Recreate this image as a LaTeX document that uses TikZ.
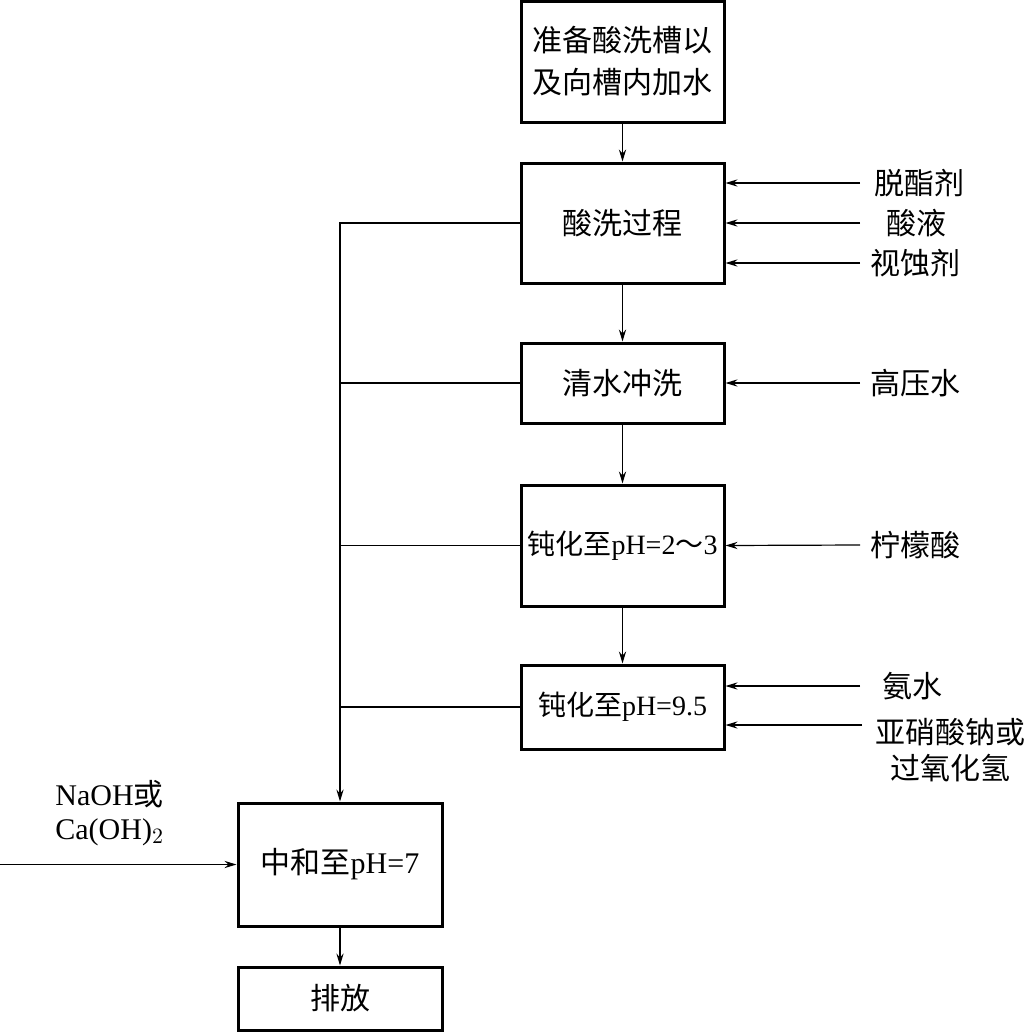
\documentclass[tikz,border=0pt]{standalone}
\usepackage{fontspec}
\setmainfont{Liberation Serif}
\newfontfamily\cjk{Noto Sans CJK SC}
\newcommand\zh[1]{{\cjk #1}}
\usetikzlibrary{arrows.meta}
\begin{document}
\begin{tikzpicture}[x=0.5pt,y=-0.5pt,
  box/.style={draw,line width=1.5pt,minimum width=101.5pt,inner sep=1pt,align=center,font=\fontsize{15}{19}\selectfont},
  lab/.style={inner sep=1pt,align=center,font=\fontsize{15}{17}\selectfont},
  arr/.style={line width=0.6pt,-{Stealth[length=6pt,width=3.6pt,inset=2pt]}},
  ln/.style={line width=0.6pt}]
\useasboundingbox (0,0) rectangle (1026,1033);
% main boxes
\node[box,minimum height=60.5pt] (b1) at (622.5,61.5) {\zh{准备酸洗槽以}\\[2pt]\zh{及向槽内加水}};
\node[box,minimum height=60pt] (b2) at (622.5,223) {\zh{酸洗过程}};
\node[box,minimum height=40pt] (b3) at (622.5,383) {\zh{清水冲洗}};
\node[box,minimum height=60.5pt,font=\fontsize{14}{17}\selectfont] (b4) at (622.5,545.5) {\zh{钝化至}pH=2\zh{～}3};
\node[box,minimum height=42pt,font=\fontsize{14}{17}\selectfont] (b5) at (622.5,707) {\zh{钝化至}pH=9.5};
\node[box,minimum width=102pt,minimum height=61.5pt] (b6) at (340,864.5) {\zh{中和至}pH=7};
\node[box,minimum width=102pt,minimum height=31.5pt] (b7) at (340,998.5) {\zh{排放}};
% main flow
\draw[arr] (b1) -- (b2);
\draw[arr] (b2) -- (b3);
\draw[arr] (b3) -- (b4);
\draw[arr] (b4) -- (b5);
\draw[arr] (b6) -- (b7);
% left collector
\draw[arr] (b2.west) -| (b6.north);
\draw[ln] (b3.west) -- (b3.west -| b6.north);
\draw[ln] (b4.west) -- (b4.west -| b6.north);
\draw[ln] (b5.west) -- (b5.west -| b6.north);
% right inputs
\node[lab] (l1) at (919,183) {\zh{脱酯剂}};
\node[lab] (l2) at (916,223) {\zh{酸液}};
\node[lab] (l3) at (915,263) {\zh{视蚀剂}};
\node[lab] (l4) at (915,383) {\zh{高压水}};
\node[lab] (l5) at (915,545) {\zh{柠檬酸}};
\node[lab] (l6) at (912,686) {\zh{氨水}};
\node[lab] (l7) at (950,750) {\zh{亚硝酸钠或}\\[1pt]\zh{过氧化氢}};
\coordinate (s1) at (860,183);
\coordinate (s2) at (860,223);
\coordinate (s3) at (860,263);
\coordinate (s4) at (860,383);
\coordinate (s5) at (860,545);
\coordinate (s6) at (860,686);
\coordinate (s7) at (862,725);
\draw[arr] (s1) -- (s1 -| b2.east);
\draw[arr] (s2) -- (b2.east);
\draw[arr] (s3) -- (s3 -| b2.east);
\draw[arr] (s4) -- (b3.east);
\draw[arr] (s5) -- (b4.east);
\draw[arr] (s6) -- (s6 -| b5.east);
\draw[arr] (s7) -- (s7 -| b5.east);
% left input
\node[lab,anchor=west,align=left] (l8) at (53,813) {NaOH\zh{或}\\Ca(OH)$_2$};
\coordinate (s8) at (0,864.5);
\draw[arr] (s8) -- (b6.west);
\end{tikzpicture}
\end{document}
